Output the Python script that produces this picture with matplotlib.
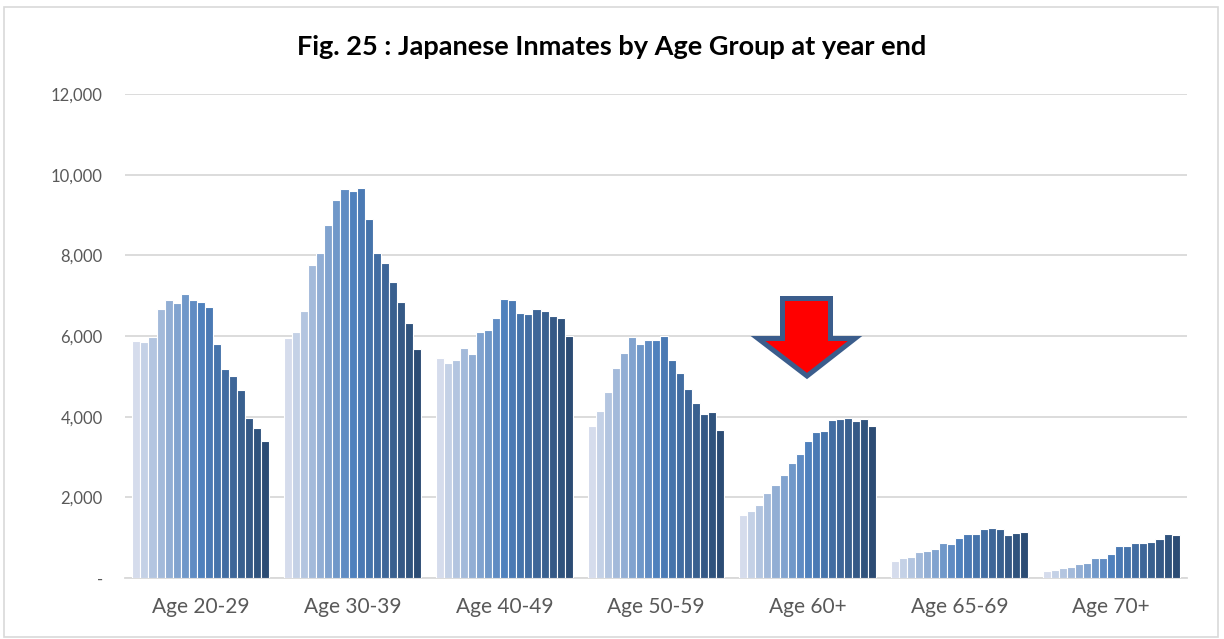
import matplotlib
matplotlib.use("Agg")
import matplotlib.pyplot as plt
from matplotlib.patches import Polygon, Rectangle
from matplotlib.colors import to_rgb, to_hex
import matplotlib.transforms as mtransforms
import numpy as np

plt.rcParams['font.family'] = ['Lato', 'DejaVu Sans']

title = "Fig. 25 : Japanese Inmates by Age Group at year end"
categories = ["Age 20-29", "Age 30-39", "Age 40-49", "Age 50-59", "Age 60+", "Age 65-69", "Age 70+"]

# one series per year (17 years), values per age group
age_20_29 = [5870, 5850, 5980, 6670, 6900, 6810, 7040, 6890, 6840, 6710, 5810, 5190, 5020, 4650, 3960, 3730, 3400]
age_30_39 = [5960, 6090, 6610, 7770, 8060, 8740, 9370, 9640, 9600, 9670, 8900, 8070, 7800, 7330, 6850, 6310, 5690]
age_40_49 = [5460, 5320, 5410, 5710, 5550, 6090, 6150, 6450, 6920, 6900, 6580, 6540, 6660, 6620, 6490, 6450, 5990]
age_50_59 = [3760, 4130, 4600, 5200, 5580, 5970, 5810, 5910, 5890, 5990, 5410, 5090, 4690, 4350, 4070, 4120, 3680]
age_60p   = [1560, 1650, 1820, 2100, 2300, 2560, 2860, 3070, 3390, 3620, 3640, 3910, 3940, 3960, 3900, 3940, 3770]
age_65_69 = [420, 490, 510, 640, 680, 720, 870, 850, 1000, 1090, 1090, 1220, 1230, 1210, 1060, 1110, 1150]
age_70p   = [170, 200, 260, 270, 350, 380, 490, 500, 590, 800, 800, 870, 870, 890, 970, 1080, 1070]

groups = [age_20_29, age_30_39, age_40_49, age_50_59, age_60p, age_65_69, age_70p]
values = np.array(groups)  # shape (7 groups, 17 years)
n_series = values.shape[1]

yticks = [0, 2000, 4000, 6000, 8000, 10000, 12000]
ytick_labels = ["-", "2,000", "4,000", "6,000", "8,000", "10,000", "12,000"]

# colours: light tint -> accent blue -> dark shade
light, mid, dark = np.array(to_rgb("#d5dcec")), np.array(to_rgb("#4f81bd")), np.array(to_rgb("#2c4c74"))
half = (n_series - 1) / 2
colors = []
for j in range(n_series):
    if j <= half:
        t = j / half
        c = light * (1 - t) + mid * t
    else:
        t = (j - half) / half
        c = mid * (1 - t) + dark * t
    colors.append(to_hex(c))

W, H = 1224, 639
fig = plt.figure(figsize=(W / 100, H / 100), dpi=100)
ax = fig.add_axes([125 / W, (H - 578) / H, (1187 - 125) / W, (578 - 94) / H])

x = np.arange(len(categories)) + 0.5
bw = 1 / (n_series + 1.83)
for j in range(n_series):
    ax.bar(x + (j - (n_series - 1) / 2) * bw, values[:, j], width=bw,
           color=colors[j], edgecolor="white", linewidth=0.8, zorder=3)

ax.set_xlim(0, len(categories))
ax.set_ylim(0, 12000)
ax.set_yticks(yticks)
ax.set_yticklabels(ytick_labels)
ax.set_xticks(x)
ax.set_xticklabels(categories)
ax.tick_params(axis='y', length=0, pad=16, labelsize=12, labelcolor="#595959")
ax.tick_params(axis='x', length=0, pad=14, labelsize=15, labelcolor="#595959")
ax.grid(axis='y', color="#d9d9d9", linewidth=1.3, zorder=0)
for s in ["top", "left", "right"]:
    ax.spines[s].set_visible(False)
ax.spines["bottom"].set_color("#d9d9d9")
ax.spines["bottom"].set_linewidth(1.3)

fig.text(612 / W, 1 - 47 / H, title, ha="center", va="center",
         fontsize=19.5, fontweight="bold", color="black")

# pixel transform (image coordinates, y down)
pix = mtransforms.Affine2D().scale(1 / W, -1 / H).translate(0, 1) + fig.transFigure

arrow_pts = [(782.5, 298.5), (830.5, 298.5), (830.5, 338.5), (855, 338.5),
             (807, 376), (758, 338.5), (782.5, 338.5)]
fig.patches.append(Polygon(arrow_pts, closed=True, facecolor="#ff0000",
                           edgecolor="#3b5d8c", linewidth=3.6, joinstyle="miter",
                           transform=pix, figure=fig))
fig.patches.append(Rectangle((4, 7), 1214, 630, fill=False, edgecolor="#d9d9d9",
                             linewidth=1.2, transform=pix, figure=fig))

fig.savefig("out.png", dpi=100)
